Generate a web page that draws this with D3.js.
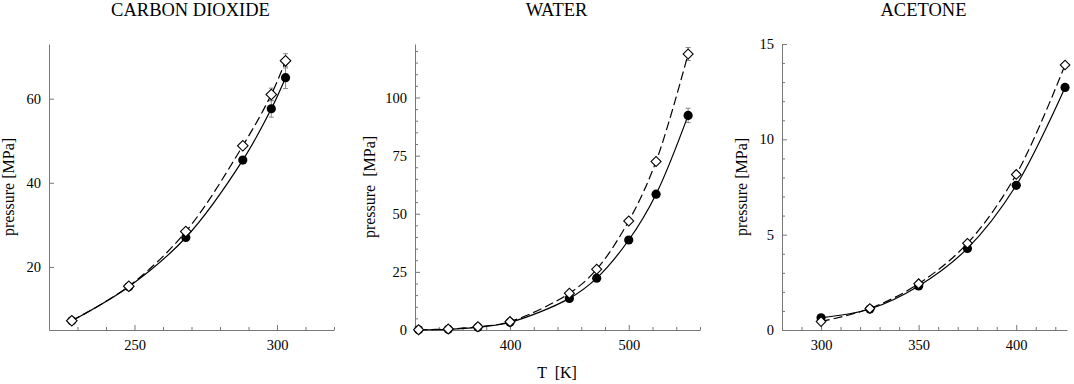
<!DOCTYPE html>
<html>
<head>
<meta charset="utf-8">
<script src="https://cdn.jsdelivr.net/npm/d3@7"></script>
<style>
  body { margin: 0; background: #fff; }
  svg { display: block; }
  text { font-family: "Liberation Serif", "Times New Roman", serif; fill: #000; }
</style>
</head>
<body>
<div id="chart"></div>
<script>
// ---- data ----
var co2T = [228, 248, 268, 288, 298, 303];
var co2Filled = [7.2, 15.3, 27.0, 45.4, 57.6, 65.0];
var co2Open = [7.2, 15.4, 28.4, 48.8, 61.0, 69.0];
var co2FilledErr = [0, 0, 0, 0, 2.0, 2.6];
var co2OpenErr = [0, 0, 0, 0, 1.5, 1.7];

var waterT = [323, 348, 373, 400, 450, 473, 500, 523, 550];
var waterFilled = [0.1, 0.3, 1.2, 3.3, 13.6, 22.3, 38.7, 58.4, 92.3];
var waterOpen = [0.1, 0.4, 1.4, 3.6, 15.8, 26.1, 46.9, 72.5, 118.7];
var waterFilledErr = [0, 0, 0, 0, 0, 0, 0, 0, 3.1];
var waterOpenErr = [0, 0, 0, 0, 0, 0, 0, 0, 2.8];

var acetoneT = [300, 325, 350, 375, 400, 425];
var acetoneFilled = [0.64, 1.1, 2.31, 4.28, 7.59, 12.72];
var acetoneOpen = [0.44, 1.13, 2.43, 4.55, 8.16, 13.9];
var acetoneFilledErr = [0, 0, 0, 0, 0, 0];
var acetoneOpenErr = [0, 0, 0, 0, 0, 0];

var titles = ["CARBON DIOXIDE", "WATER", "ACETONE"];
var yLabels = ["pressure [MPa]", "pressure  [MPa]", "pressure [MPa]"];
var xLabel = "T  [K]";

// ---- panel setup ----
var width = 1074, height = 384;
var svg = d3.select("#chart").append("svg")
    .attr("width", width)
    .attr("height", height);

var panels = [
  { left: 49, xDomain: [220, 320], yDomain: [5, 73],
    xMajor: [250, 300], xMinor: d3.range(230, 321, 10),
    yMajor: [20, 40, 60], yMinor: [],
    T: co2T, filled: co2Filled, open: co2Open, fErr: co2FilledErr, oErr: co2OpenErr,
    labelX: 14, diamond: 56 },
  { left: 415, xDomain: [320, 560], yDomain: [0, 123],
    xMajor: [400, 500], xMinor: d3.range(340, 561, 20),
    yMajor: [0, 25, 50, 75, 100], yMinor: d3.range(5, 121, 5),
    T: waterT, filled: waterFilled, open: waterOpen, fErr: waterFilledErr, oErr: waterOpenErr,
    labelX: 375, diamond: 50 },
  { left: 782, xDomain: [280, 426], yDomain: [0, 15],
    xMajor: [300, 350, 400], xMinor: d3.range(290, 426, 10),
    yMajor: [0, 5, 10, 15], yMinor: d3.range(1, 15, 1),
    T: acetoneT, filled: acetoneFilled, open: acetoneOpen, fErr: acetoneFilledErr, oErr: acetoneOpenErr,
    labelX: 747, diamond: 46 }
];

var plotW = 285, plotTop = 44, plotBottom = 330;
var axisColor = "#777";

panels.forEach(function(p, i) {
  var x = d3.scaleLinear().domain(p.xDomain).range([p.left, p.left + plotW]);
  var y = d3.scaleLinear().domain(p.yDomain).range([plotBottom, plotTop]);
  var g = svg.append("g");

  // minor ticks
  g.append("g")
    .attr("transform", "translate(0," + plotBottom + ")")
    .call(d3.axisBottom(x).tickValues(p.xMinor.filter(function(v) { return p.xMajor.indexOf(v) < 0; }))
      .tickSize(-3).tickSizeOuter(0).tickFormat(""))
    .call(function(a) { a.select(".domain").remove(); });
  if (p.yMinor.length) {
    g.append("g")
      .attr("transform", "translate(" + p.left + ",0)")
      .call(d3.axisLeft(y).tickValues(p.yMinor.filter(function(v) { return p.yMajor.indexOf(v) < 0; }))
        .tickSize(-3).tickSizeOuter(0).tickFormat(""))
      .call(function(a) { a.select(".domain").remove(); });
  }

  // major axes
  g.append("g")
    .attr("transform", "translate(0," + plotBottom + ")")
    .call(d3.axisBottom(x).tickValues(p.xMajor).tickSize(-5).tickSizeOuter(0).tickPadding(10));
  g.append("g")
    .attr("transform", "translate(" + p.left + ",0)")
    .call(d3.axisLeft(y).tickValues(p.yMajor).tickSize(-5).tickSizeOuter(0).tickPadding(8));

  g.selectAll(".domain, .tick line").attr("stroke", axisColor);
  g.selectAll(".tick text")
    .style("font-family", '"Liberation Serif", "Times New Roman", serif')
    .style("font-size", "14.5px")
    .attr("fill", "#000");

  // title and y label
  svg.append("text")
    .attr("x", p.left + plotW / 2 - 1)
    .attr("y", 16)
    .attr("text-anchor", "middle")
    .style("font-size", "18.5px")
    .text(titles[i]);

  svg.append("text")
    .attr("transform", "translate(" + p.labelX + "," + (plotTop + plotBottom) / 2 + ") rotate(-90)")
    .attr("text-anchor", "middle")
    .style("font-size", "16px")
    .style("white-space", "pre")
    .text(yLabels[i]);

  var rows = p.T.map(function(t, j) {
    return { t: t, f: p.filled[j], o: p.open[j], fe: p.fErr[j], oe: p.oErr[j] };
  });

  // error bars
  var errs = [];
  rows.forEach(function(r) {
    if (r.fe > 0) errs.push({ t: r.t, v: r.f, e: r.fe });
    if (r.oe > 0) errs.push({ t: r.t, v: r.o, e: r.oe });
  });
  var eg = g.append("g").attr("stroke", "#888").attr("stroke-width", 1);
  errs.forEach(function(d) {
    var cx = x(d.t);
    eg.append("line").attr("x1", cx).attr("x2", cx).attr("y1", y(d.v - d.e)).attr("y2", y(d.v + d.e));
    eg.append("line").attr("x1", cx - 2.5).attr("x2", cx + 2.5).attr("y1", y(d.v - d.e)).attr("y2", y(d.v - d.e));
    eg.append("line").attr("x1", cx - 2.5).attr("x2", cx + 2.5).attr("y1", y(d.v + d.e)).attr("y2", y(d.v + d.e));
  });

  // curves
  var lineF = d3.line().x(function(d) { return x(d.t); }).y(function(d) { return y(d.f); })
    .curve(d3.curveCatmullRom);
  var lineO = d3.line().x(function(d) { return x(d.t); }).y(function(d) { return y(d.o); })
    .curve(d3.curveCatmullRom);

  g.append("path").attr("d", lineF(rows))
    .attr("fill", "none").attr("stroke", "#000").attr("stroke-width", 1.2);
  g.append("path").attr("d", lineO(rows))
    .attr("fill", "none").attr("stroke", "#000").attr("stroke-width", 1.2)
    .attr("stroke-dasharray", "9,4");

  // markers
  g.selectAll(".filled").data(rows).enter().append("circle")
    .attr("class", "filled")
    .attr("cx", function(d) { return x(d.t); })
    .attr("cy", function(d) { return y(d.f); })
    .attr("r", 4.6)
    .attr("fill", "#000");

  var diamond = d3.symbol().type(d3.symbolSquare).size(p.diamond);
  g.selectAll(".open").data(rows).enter().append("path")
    .attr("class", "open")
    .attr("d", diamond)
    .attr("transform", function(d) { return "translate(" + x(d.t) + "," + y(d.o) + ") rotate(45)"; })
    .attr("fill", "#fff")
    .attr("stroke", "#000")
    .attr("stroke-width", 1.1);
});

// shared x label under the middle panel
svg.append("text")
  .attr("x", 557)
  .attr("y", 378)
  .attr("text-anchor", "middle")
  .style("font-size", "16px")
  .style("white-space", "pre")
  .text(xLabel);
</script>
</body>
</html>
